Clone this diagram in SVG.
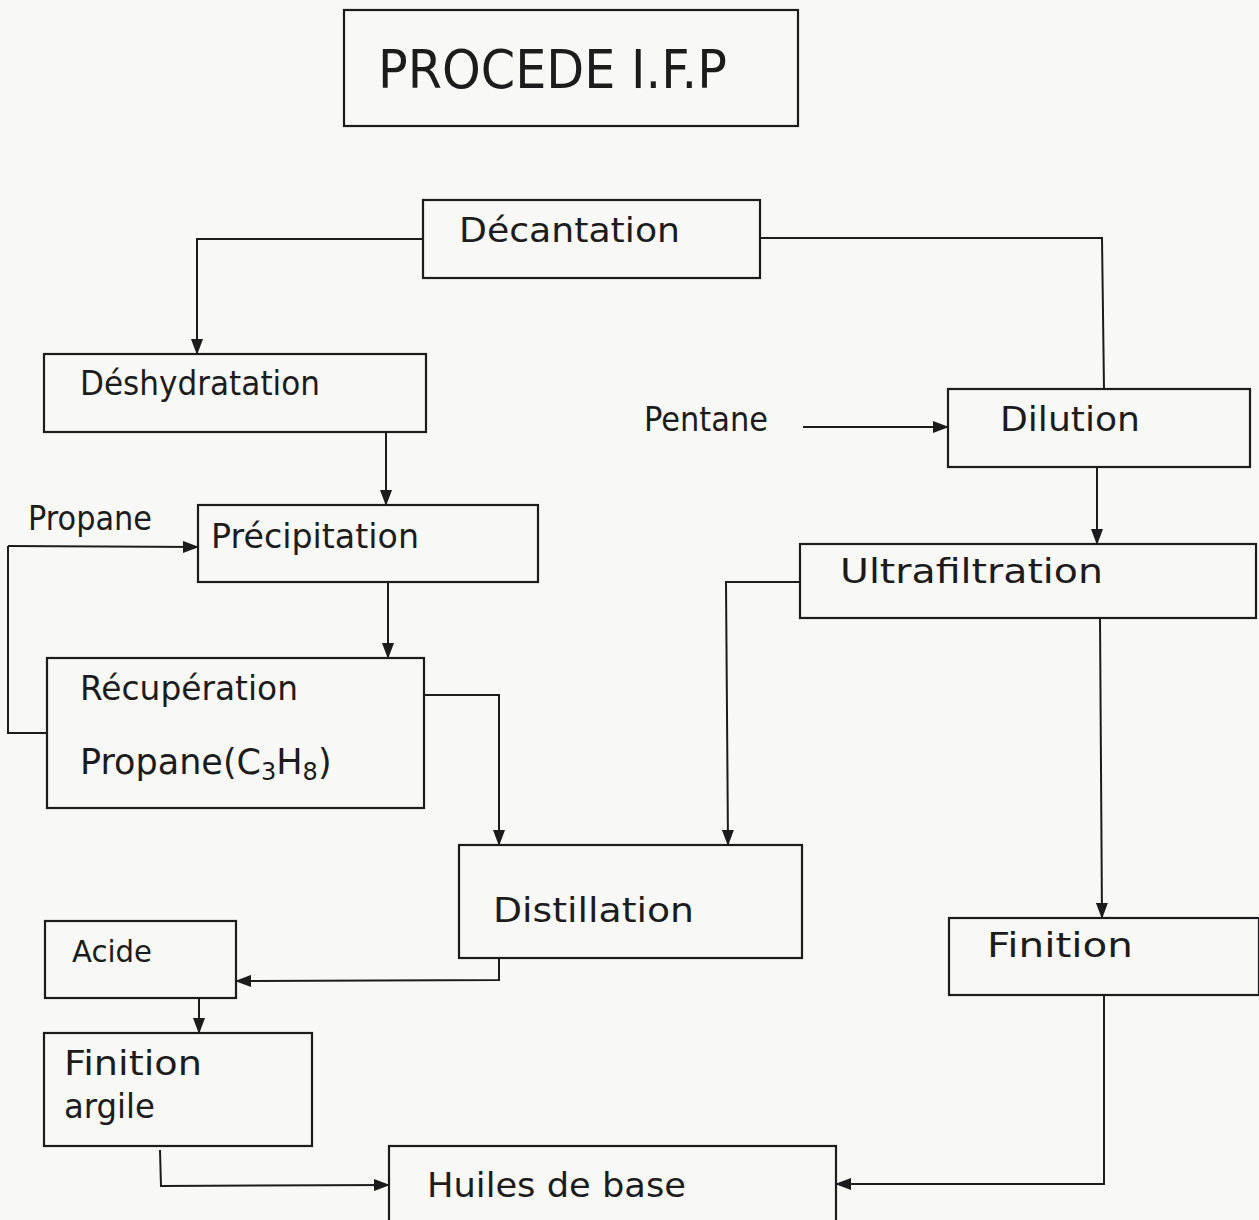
<svg xmlns="http://www.w3.org/2000/svg" width="1259" height="1220" viewBox="0 0 1259 1220">
<style>
.box{fill:none;stroke:#1c1c1c;stroke-width:2.2}
.lbl{font-family:"DejaVu Sans","Liberation Sans",sans-serif;font-size:34px;fill:#1c1c1c}
.ln{fill:none;stroke:#1c1c1c;stroke-width:2}
</style>
<defs>
<marker id="ah" markerWidth="16" markerHeight="12" refX="15" refY="6" orient="auto" markerUnits="userSpaceOnUse">
<path d="M0,0 L16,6 L0,12 Z" fill="#1c1c1c"/>
</marker>
</defs>
<rect width="1259" height="1220" fill="#f8f8f6"/>
<g id="title">
<rect class="box" x="344" y="10" width="454" height="116"/>
<text class="lbl" x="378" y="88" style="font-size:54px" textLength="349" lengthAdjust="spacingAndGlyphs">PROCEDE I.F.P</text>
</g>
<g id="decantation">
<rect class="box" x="423" y="200" width="337" height="78"/>
<text class="lbl" x="459" y="242" textLength="221" lengthAdjust="spacingAndGlyphs">Décantation</text>
</g>
<g id="deshydratation">
<rect class="box" x="44" y="354" width="382" height="78"/>
<text class="lbl" x="80" y="395" textLength="240" lengthAdjust="spacingAndGlyphs">Déshydratation</text>
</g>
<g id="precipitation">
<rect class="box" x="198" y="505" width="340" height="77"/>
<text class="lbl" x="211" y="548" textLength="208" lengthAdjust="spacingAndGlyphs">Précipitation</text>
</g>
<g id="recuperation">
<rect class="box" x="47" y="658" width="377" height="150"/>
<text class="lbl" x="80" y="700" textLength="218" lengthAdjust="spacingAndGlyphs">Récupération</text>
<text class="lbl" x="80" y="774" style="font-size:35px">Propane(C<tspan style="font-size:24px" dy="6">3</tspan><tspan dy="-6">H</tspan><tspan style="font-size:24px" dy="6">8</tspan><tspan dy="-6">)</tspan></text>
</g>
<g id="distillation">
<rect class="box" x="459" y="845" width="343" height="113"/>
<text class="lbl" x="493" y="922" textLength="201" lengthAdjust="spacingAndGlyphs">Distillation</text>
</g>
<g id="acide">
<rect class="box" x="45" y="921" width="191" height="77"/>
<text class="lbl" x="72" y="962" style="font-size:31px" textLength="80" lengthAdjust="spacingAndGlyphs">Acide</text>
</g>
<g id="finition-argile">
<rect class="box" x="44" y="1033" width="268" height="113"/>
<text class="lbl" x="64" y="1075" textLength="138" lengthAdjust="spacingAndGlyphs">Finition</text>
<text class="lbl" x="64" y="1118" textLength="91" lengthAdjust="spacingAndGlyphs">argile</text>
</g>
<g id="huiles">
<rect class="box" x="389" y="1146" width="447" height="76"/>
<text class="lbl" x="427" y="1197" textLength="259" lengthAdjust="spacingAndGlyphs">Huiles de base</text>
</g>
<g id="dilution">
<rect class="box" x="948" y="389" width="302" height="78"/>
<text class="lbl" x="1000" y="431" textLength="140" lengthAdjust="spacingAndGlyphs">Dilution</text>
</g>
<g id="ultrafiltration">
<rect class="box" x="800" y="544" width="456" height="74"/>
<text class="lbl" x="840" y="583" textLength="263" lengthAdjust="spacingAndGlyphs">Ultrafiltration</text>
</g>
<g id="finition">
<rect class="box" x="949" y="918" width="310" height="77"/>
<text class="lbl" x="987" y="957" textLength="146" lengthAdjust="spacingAndGlyphs">Finition</text>
</g>
<g id="labels">
<text class="lbl" x="644" y="431" textLength="124" lengthAdjust="spacingAndGlyphs">Pentane</text>
<text class="lbl" x="28" y="530" textLength="124" lengthAdjust="spacingAndGlyphs">Propane</text>
</g>
<g id="connectors">
<polyline class="ln" points="423,239 197,239 197,354" marker-end="url(#ah)"/>
<polyline class="ln" points="760,238 1102,238 1104,389"/>
<polyline class="ln" points="386,432 386,505" marker-end="url(#ah)"/>
<polyline class="ln" points="8,546 198,547" marker-end="url(#ah)"/>
<polyline class="ln" points="8,546 8,733 47,733"/>
<polyline class="ln" points="388,582 388,658" marker-end="url(#ah)"/>
<polyline class="ln" points="424,695 499,695 499,845" marker-end="url(#ah)"/>
<polyline class="ln" points="803,427 948,427" marker-end="url(#ah)"/>
<polyline class="ln" points="1097,467 1097,544" marker-end="url(#ah)"/>
<polyline class="ln" points="800,582 726,582 728,845" marker-end="url(#ah)"/>
<polyline class="ln" points="1100,618 1102,918" marker-end="url(#ah)"/>
<polyline class="ln" points="499,958 499,980 236,981" marker-end="url(#ah)"/>
<polyline class="ln" points="199,998 199,1033" marker-end="url(#ah)"/>
<polyline class="ln" points="160,1150 161,1186 389,1185" marker-end="url(#ah)"/>
<polyline class="ln" points="1104,995 1104,1184 836,1184" marker-end="url(#ah)"/>
</g>
</svg>
